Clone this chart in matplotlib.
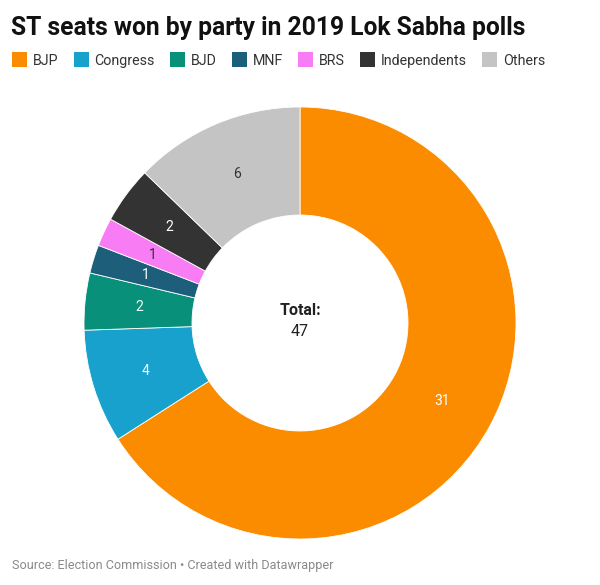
import matplotlib
matplotlib.use("Agg")
import matplotlib.pyplot as plt
import matplotlib.patches as patches

# data
parties = ['BJP', 'Congress', 'BJD', 'MNF', 'BRS', 'Independents', 'Others']
seats = [31, 4, 2, 1, 1, 2, 6]
colors = ['#fb8c00', '#18a1cd', '#09907a', '#1d5f7a', '#f87cf4', '#333333', '#c4c4c4']
label_colors = ['white', 'white', '#e8fffb', 'white', '#333333', 'white', '#333333']

plt.rcParams['font.family'] = ['Roboto', 'DejaVu Sans']

fig = plt.figure(figsize=(6, 5.85), dpi=100)
W, H = 600, 585

ax = fig.add_axes([84 / W, 46 / H, 432 / W, 432 / H])
wedges, texts = ax.pie(seats, colors=colors, startangle=90, counterclock=False,
                       radius=1, labels=[str(s) for s in seats], labeldistance=0.75,
                       wedgeprops=dict(width=0.5, edgecolor='white', linewidth=0.6),
                       textprops=dict(fontsize=10))
for t, c in zip(texts, label_colors):
    t.set_color(c)
    t.set_ha('center')
    t.set_va('center')
ax.set_xlim(-1, 1)
ax.set_ylim(-1, 1)
ax.set_aspect('equal')
ax.axis('off')

ax.text(0, 0.06, 'Total:', ha='center', va='center', fontsize=11.5,
        fontweight='bold', color='#222222')
ax.text(0, -0.04, str(sum(seats)), ha='center', va='center', fontsize=11.5,
        color='#222222')

# title
fig.text(11 / W, 1 - 35 / H, 'ST seats won by party in 2019 Lok Sabha polls',
         fontsize=17.7, fontweight='bold', color='#111111', va='baseline', ha='left')

# legend drawn by hand
fig.canvas.draw()
renderer = fig.canvas.get_renderer()
x = 12
y = 59.5
sq = 15
for name, c in zip(parties, colors):
    fig.patches.append(patches.Rectangle((x / W, 1 - (y + sq / 2) / H), sq / W, sq / H,
                                         transform=fig.transFigure, facecolor=c,
                                         edgecolor='none'))
    t = fig.text((x + sq + 6) / W, 1 - (y + 5.2) / H, name, fontsize=10.3, color='#333333',
                 va='baseline', ha='left')
    w = t.get_window_extent(renderer).width
    x = x + sq + 6 + w + 15

fig.text(12 / W, 1 - 569 / H, 'Source: Election Commission \u2022 Created with Datawrapper',
         fontsize=9.1, color='#8a8a8a', va='baseline', ha='left')

fig.savefig('out.png', dpi=100, facecolor='white')
